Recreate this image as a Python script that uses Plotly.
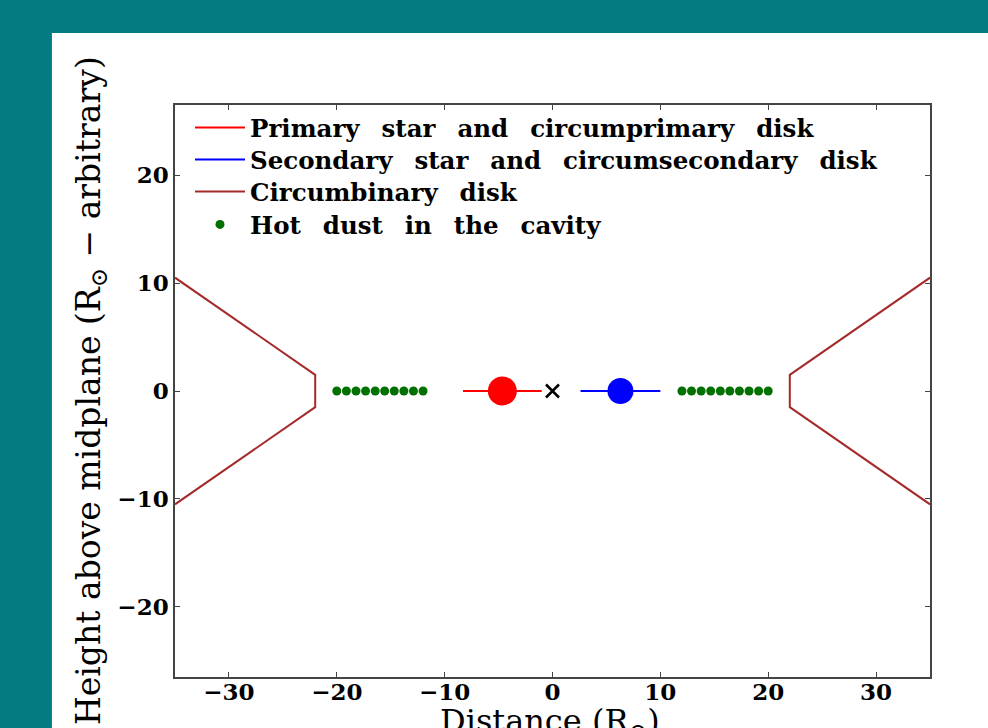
import plotly.graph_objects as go

# ---- data ----
cb_x = [-35, -22, -22, -35, None, 35, 22, 22, 35]
cb_y = [10.5, 1.5, -1.5, -10.5, None, 10.5, 1.5, -1.5, -10.5]

dust_left_x = [-20.0, -19.11, -18.22, -17.33, -16.44, -15.56, -14.67, -13.78, -12.89, -12.0]
dust_right_x = [12.0, 12.89, 13.78, 14.67, 15.56, 16.44, 17.33, 18.22, 19.11, 20.0]
dust_y = [0] * 10

primary_disk_x = [-8.3, -1.0]
primary_star_x = [-4.65]
secondary_disk_x = [2.6, 10.0]
secondary_star_x = [6.3]
com_x = [0.0]
mid_y = [0, 0]

x_ticks = [-30, -20, -10, 0, 10, 20, 30]
y_ticks = [-20, -10, 0, 10, 20]

legend_names = [
    ["Primary", "star", "and", "circumprimary", "disk"],
    ["Secondary", "star", "and", "circumsecondary", "disk"],
    ["Circumbinary", "disk"],
    ["Hot", "dust", "in", "the", "cavity"],
]
GAP = "\u00a0\u00a0\u2009"
names = [GAP.join(w) for w in legend_names]

TEAL = "#027B82"
BROWN = "#A52A2A"
GREEN = "#007000"
SERIF = "DejaVu Serif"

fig = go.Figure()

fig.add_trace(go.Scatter(x=primary_disk_x, y=mid_y, mode="lines",
                         line=dict(color="red", width=2), name=names[0], legend="legend"))
fig.add_trace(go.Scatter(x=secondary_disk_x, y=mid_y, mode="lines",
                         line=dict(color="blue", width=2), name=names[1], legend="legend2"))
fig.add_trace(go.Scatter(x=cb_x, y=cb_y, mode="lines",
                         line=dict(color=BROWN, width=2), name=names[2], legend="legend3"))
fig.add_trace(go.Scatter(x=dust_left_x + [None] + dust_right_x,
                         y=dust_y + [None] + dust_y, mode="markers",
                         marker=dict(color=GREEN, size=9), name=names[3], legend="legend4"))
fig.add_trace(go.Scatter(x=primary_star_x, y=[0], mode="markers",
                         marker=dict(color="red", size=29), showlegend=False))
fig.add_trace(go.Scatter(x=secondary_star_x, y=[0], mode="markers",
                         marker=dict(color="blue", size=26), showlegend=False))
fig.add_trace(go.Scatter(x=com_x, y=[0], mode="markers",
                         marker=dict(color="black", size=13, symbol="x-thin",
                                     line=dict(color="black", width=2.5)),
                         showlegend=False))

axis_common = dict(
    showline=True, linecolor="#444", linewidth=1.5, mirror="ticks",
    ticks="inside", ticklen=5, tickwidth=1, tickcolor="#444",
    showgrid=False, zeroline=False, automargin=False,
    tickfont=dict(family=SERIF, size=23, color="black", weight="bold"),
)

fig.update_xaxes(range=[-35, 35], tickvals=x_ticks, ticklabelstandoff=-6, **axis_common)
fig.update_yaxes(range=[-26.5, 26.5], tickvals=y_ticks, **axis_common)

fig.add_annotation(text="Distance (R<sub>⊙</sub>)", xref="paper", yref="paper",
                   x=0.497, y=-0.04, xanchor="center", yanchor="top", showarrow=False,
                   font=dict(family=SERIF, size=32, color="black"))
fig.add_annotation(text="Height above midplane (R<sub>⊙</sub> − arbitrary)",
                   xref="paper", yref="paper", x=(90 - 175) / 755, y=0.5,
                   xanchor="center", yanchor="middle", textangle=-90, showarrow=False,
                   font=dict(family=SERIF, size=33, color="black"))

fig.add_shape(type="rect", xref="paper", yref="paper",
              x0=-0.163, x1=1.2, y0=-0.2, y1=1.126,
              fillcolor="white", line=dict(width=0), layer="below")


def legend_at(row_center_px):
    return dict(x=(190 - 175) / 755, y=(677 - row_center_px) / 572,
                xanchor="left", yanchor="middle",
                bgcolor="rgba(0,0,0,0)", borderwidth=0, itemwidth=50,
                font=dict(family=SERIF, size=24.5, color="black", weight="bold"))


fig.update_layout(
    width=988, height=728,
    margin=dict(l=175, r=58, t=105, b=51),
    paper_bgcolor=TEAL, plot_bgcolor="white",
    legend=legend_at(127.5), legend2=legend_at(159.5),
    legend3=legend_at(191.5), legend4=legend_at(224.5),
)

fig.write_html("out.html")
